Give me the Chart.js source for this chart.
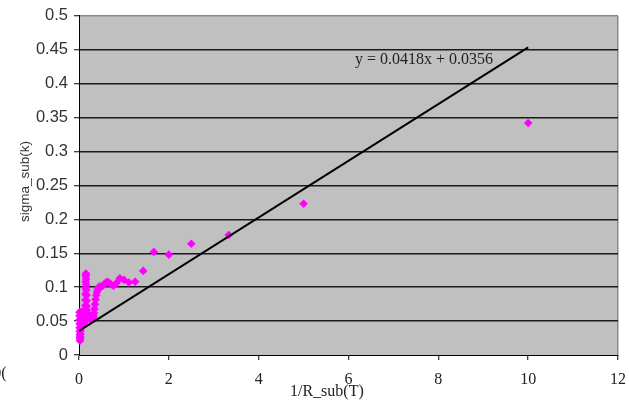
<!DOCTYPE html>
<html>
<head>
<meta charset="utf-8">
<script src="https://cdn.jsdelivr.net/npm/chart.js@4/dist/chart.umd.min.js"></script>
<style>
  html, body { margin: 0; padding: 0; background: #ffffff; overflow: hidden; }
  #wrap { width: 629px; height: 407px; position: relative; }
</style>
</head>
<body>
<div id="wrap"><canvas id="chart" width="629" height="407"></canvas></div>
<script>
// Measured points: 1/R_sub(T) against sigma_sub(k)
const invR = [
  10, 5, 3.333, 2.5, 2, 1.667, 1.429, 1.25, 1.111, 1,
  0.909, 0.833, 0.769, 0.714, 0.667, 0.625, 0.588, 0.556, 0.526, 0.5,
  0.476, 0.455, 0.435, 0.417, 0.4, 0.385, 0.37, 0.357, 0.345, 0.333,
  0.323, 0.313, 0.303, 0.294, 0.286, 0.278, 0.27, 0.263, 0.256, 0.25,
  0.244, 0.238, 0.233, 0.227, 0.222, 0.217, 0.213, 0.208, 0.204, 0.2,
  0.196, 0.192, 0.189, 0.185, 0.182, 0.179, 0.175, 0.172, 0.169, 0.167,
  0.164, 0.161, 0.159, 0.156, 0.154, 0.152, 0.149, 0.147, 0.145, 0.143,
  0.141, 0.139, 0.137, 0.135, 0.13, 0.125, 0.12, 0.115, 0.11, 0.105,
  0.1, 0.095, 0.09, 0.085, 0.08, 0.075, 0.07, 0.065, 0.06, 0.055,
  0.05, 0.045, 0.04, 0.036, 0.032, 0.028, 0.025, 0.022, 0.02, 0.018,
  0.016, 0.014, 0.013, 0.012, 0.011, 0.01
];
const sigma = [
  0.342, 0.223, 0.177, 0.164, 0.148, 0.152, 0.124, 0.108, 0.107, 0.111,
  0.113, 0.106, 0.102, 0.104, 0.107, 0.108, 0.106, 0.104, 0.102, 0.101,
  0.100, 0.101, 0.100, 0.097, 0.093, 0.088, 0.082, 0.075, 0.068, 0.062,
  0.058, 0.056, 0.055, 0.054, 0.054, 0.055, 0.055, 0.054, 0.053, 0.054,
  0.055, 0.054, 0.055, 0.056, 0.055, 0.054, 0.055, 0.056, 0.057, 0.056,
  0.057, 0.058, 0.057, 0.058, 0.060, 0.062, 0.066, 0.072, 0.080, 0.088,
  0.096, 0.104, 0.112, 0.118, 0.120, 0.116, 0.108, 0.099, 0.090, 0.081,
  0.073, 0.066, 0.061, 0.058, 0.054, 0.050, 0.047, 0.052, 0.057, 0.062,
  0.059, 0.055, 0.050, 0.046, 0.043, 0.049, 0.054, 0.060, 0.064, 0.058,
  0.052, 0.046, 0.040, 0.036, 0.031, 0.027, 0.024, 0.021, 0.025, 0.030,
  0.035, 0.040, 0.046, 0.052, 0.058, 0.063
];

// Linear trend fitted to the points
const trendSlope = 0.0418;
const trendIntercept = 0.0356;
const trendRange = [0, 10];
const trendLabel = 'y = 0.0418x + 0.0356';

const xTickLabels = ['0', '2', '4', '6', '8', '10', '12'];
const yTickLabels = ['0', '0.05', '0.1', '0.15', '0.2', '0.25', '0.3', '0.35', '0.4', '0.45', '0.5'];
const xTitle = '1/R_sub(T)';
const yTitle = 'sigma_sub(k)';
const strayLabel = '0(';

const points = invR.map((x, i) => ({ x: x, y: sigma[i] }));
const trendPoints = trendRange.map(x => ({ x: x, y: trendSlope * x + trendIntercept }));

const SERIF = '"Liberation Serif", "Times New Roman", serif';
const SANS = '"Liberation Sans", Arial, sans-serif';

// Grey plot area, plus the free-standing texts
const plotDecor = {
  id: 'plotDecor',
  beforeDraw(chart) {
    const a = chart.chartArea;
    const ctx = chart.ctx;
    ctx.save();
    ctx.fillStyle = '#c0c0c0';
    ctx.fillRect(a.left, a.top, a.right - a.left, a.bottom - a.top);
    ctx.restore();
  },
  afterDraw(chart) {
    const a = chart.chartArea;
    const ctx = chart.ctx;
    ctx.save();
    // trend equation
    ctx.fillStyle = '#222222';
    ctx.font = '16px ' + SERIF;
    ctx.textAlign = 'left';
    ctx.textBaseline = 'alphabetic';
    ctx.fillText(trendLabel, a.left + 276, a.top + 48);
    // x axis title
    ctx.fillStyle = '#222222';
    ctx.font = '16px ' + SERIF;
    ctx.fillText(xTitle, a.left + 211, a.bottom + 41);
    // cut-off label at the left edge
    ctx.textAlign = 'right';
    ctx.fillText(strayLabel, 6.5, a.bottom + 23);
    // y axis title
    ctx.translate(29, (a.top + a.bottom) / 2 - 4);
    ctx.rotate(-Math.PI / 2);
    ctx.textAlign = 'center';
    ctx.fillStyle = '#333333';
    ctx.font = '13.5px ' + SANS;
    ctx.fillText(yTitle, 0, 0);
    ctx.restore();
  }
};

new Chart(document.getElementById('chart'), {
  type: 'scatter',
  data: {
    datasets: [
      {
        type: 'line',
        label: 'trend',
        data: trendPoints,
        borderColor: '#000000',
        borderWidth: 2,
        pointRadius: 0,
        fill: false,
        order: 0
      },
      {
        label: 'sigma',
        data: points,
        pointStyle: 'rectRot',
        pointRadius: 4.3,
        pointBorderWidth: 0,
        backgroundColor: '#ff00ff',
        borderColor: '#ff00ff',
        clip: false,
        order: 1
      }
    ]
  },
  options: {
    responsive: false,
    devicePixelRatio: 1,
    animation: false,
    events: [],
    layout: { padding: { top: 14, right: 11, left: 0, bottom: 0 } },
    plugins: { legend: { display: false }, tooltip: { enabled: false } },
    scales: {
      x: {
        type: 'linear',
        min: 0,
        max: 12,
        afterFit(s) { s.height = 52; s.paddingLeft = 0; s.paddingRight = 0; },
        ticks: {
          stepSize: 2,
          maxRotation: 0,
          padding: 10,
          color: '#222222',
          font: { family: SERIF, size: 16 },
          callback: (v, i) => xTickLabels[i]
        },
        grid: {
          drawOnChartArea: true,
          color: ctx => (ctx.index === xTickLabels.length - 1 ? '#8a8a8a' : 'rgba(0,0,0,0)'),
          lineWidth: 1.5,
          tickColor: '#000000',
          tickWidth: 1,
          tickLength: 5
        },
        border: { display: true, color: '#000000', width: 1 }
      },
      y: {
        min: 0,
        max: 0.5,
        afterFit(s) { s.width = 79; },
        ticks: {
          stepSize: 0.05,
          padding: 6,
          color: '#333333',
          font: { family: SANS, size: 16.5 },
          callback: (v, i) => yTickLabels[i]
        },
        grid: {
          color: ctx => (ctx.index === yTickLabels.length - 1 ? '#8a8a8a' : (ctx.index === 0 ? 'rgba(0,0,0,0)' : '#1a1a1a')),
          lineWidth: 1.5,
          tickColor: '#000000',
          tickWidth: 1,
          tickLength: 5
        },
        border: { display: true, color: '#000000', width: 1 }
      }
    }
  },
  plugins: [plotDecor]
});
</script>
</body>
</html>
